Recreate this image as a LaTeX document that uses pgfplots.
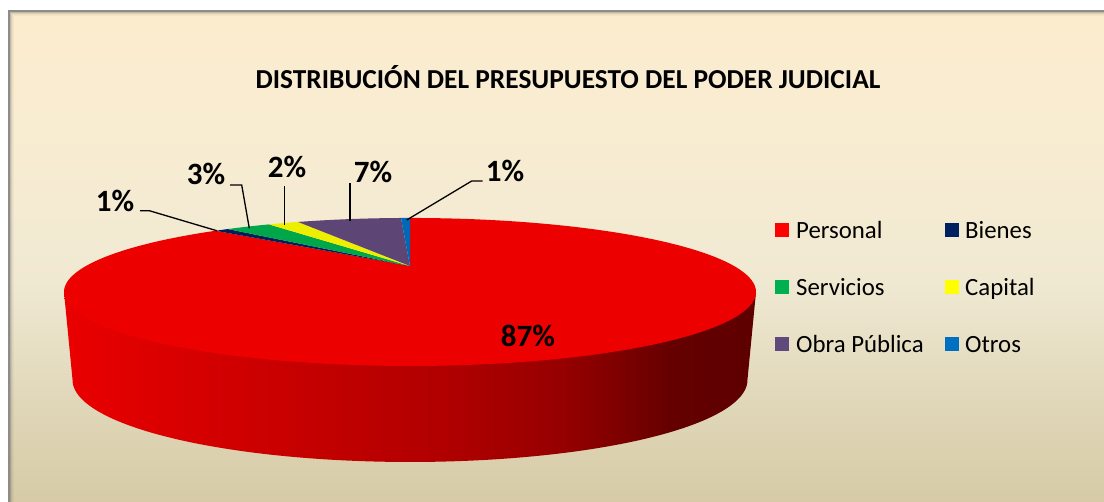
\documentclass[border=0pt]{standalone}
\usepackage{pgfplots}
\pgfplotsset{compat=1.18}
\usepackage{fontspec}
\setmainfont{Carlito}

% slice colours (top face) and legend colours
\definecolor{pPersonal}{RGB}{236,0,0}
\definecolor{pBienes}{RGB}{0,30,92}
\definecolor{pServicios}{RGB}{0,166,74}
\definecolor{pCapital}{RGB}{238,238,0}
\definecolor{pObra}{RGB}{93,70,118}
\definecolor{pOtros}{RGB}{0,104,184}
\definecolor{lPersonal}{RGB}{255,0,0}
\definecolor{lBienes}{RGB}{0,32,96}
\definecolor{lServicios}{RGB}{0,176,80}
\definecolor{lCapital}{RGB}{255,255,0}
\definecolor{lObra}{RGB}{96,74,123}
\definecolor{lOtros}{RGB}{0,112,192}

% wall shading (left -> right)
\definecolor{w0}{RGB}{234,0,0}
\definecolor{w1}{RGB}{205,0,0}
\definecolor{w2}{RGB}{175,0,0}
\definecolor{w3}{RGB}{150,0,0}
\definecolor{w4}{RGB}{120,0,0}
\definecolor{w5}{RGB}{100,0,0}
\definecolor{w6}{RGB}{94,0,0}
\pgfdeclarehorizontalshading{wallshade}{100bp}{color(0bp)=(w0); color(25bp)=(w0);
  color(38.5bp)=(w1); color(53bp)=(w2); color(61bp)=(w3); color(66bp)=(w4);
  color(69bp)=(w5); color(75bp)=(w6); color(100bp)=(w6)}

% background shading (bottom -> top)
\definecolor{g0}{RGB}{214,203,166}
\definecolor{g1}{RGB}{224,215,185}
\definecolor{g2}{RGB}{240,233,210}
\definecolor{g3}{RGB}{247,236,210}
\definecolor{g4}{RGB}{252,236,206}
\pgfdeclareverticalshading{bgshade}{100bp}{color(0bp)=(g0); color(25bp)=(g0);
  color(35bp)=(g1); color(47.5bp)=(g2); color(60bp)=(g3); color(75bp)=(g4); color(100bp)=(g4)}

% data (percent of budget)
\def\vPersonal{86.7}
\def\vBienes{0.9}
\def\vServicios{2.9}
\def\vCapital{2.0}
\def\vObra{6.9}
\def\vOtros{0.6}
% cumulative angles, clockwise from 12 o'clock
\pgfmathsetmacro\aA{90}
\pgfmathsetmacro\aB{\aA-3.6*\vPersonal}
\pgfmathsetmacro\aC{\aB-3.6*\vBienes}
\pgfmathsetmacro\aD{\aC-3.6*\vServicios}
\pgfmathsetmacro\aE{\aD-3.6*\vCapital}
\pgfmathsetmacro\aF{\aE-3.6*\vObra}
\pgfmathsetmacro\aG{\aF-3.6*\vOtros}

\newcommand\slice[4]{\addplot[draw=none, fill=#1, domain=#2:#3, samples=#4]
  ({tx(x)},{ty(x)}) -- (axis cs:410,266) -- cycle;}

\begin{document}
\begin{tikzpicture}[declare function={
  tw(\t)=1+0.351*sin(\t);
  tx(\t)=410+324*cos(\t)/tw(\t);
  ty(\t)=266-64.9*sin(\t)/tw(\t);
  bx(\t)=410+316*cos(\t)/tw(\t);
  by(\t)=351.2-71.9*sin(\t)/tw(\t);
}]
\begin{axis}[
  width=1104pt, height=502pt, scale only axis,
  xmin=0, xmax=1104, ymin=0, ymax=502, y dir=reverse,
  hide axis, clip=true,
]
% background and frame
\fill[white] (axis cs:0,0) rectangle (axis cs:1104,502);
\fill[shade, shading=bgshade] (axis cs:9,11) rectangle (axis cs:1104,502);
\draw[black!45, line width=1.6pt] (axis cs:8.8,520) -- (axis cs:8.8,10.8) -- (axis cs:1120,10.8);
\draw[black, opacity=0.22, line width=1pt] (axis cs:10.6,520) -- (axis cs:10.6,12.6) -- (axis cs:1120,12.6);
\draw[black, opacity=0.12, line width=1pt] (axis cs:11.6,520) -- (axis cs:11.6,13.6) -- (axis cs:1120,13.6);
\draw[black, opacity=0.06, line width=1pt] (axis cs:12.6,520) -- (axis cs:12.6,14.6) -- (axis cs:1120,14.6);
\draw[black, opacity=0.03, line width=1pt] (axis cs:13.6,520) -- (axis cs:13.6,15.6) -- (axis cs:1120,15.6);

% side wall (front, all Personal)
\addplot[draw=none, shade, shading=wallshade, domain=200.5:339.5, samples=120]
  ({bx(x)},{by(x)}) -- (axis cs:756,292) -- (axis cs:64,292) -- cycle;

% top face slices
\slice{pPersonal}{\aB}{\aA}{240}
\slice{pBienes}{\aC}{\aB}{6}
\slice{pServicios}{\aD}{\aC}{10}
\slice{pCapital}{\aE}{\aD}{8}
\slice{pObra}{\aF}{\aE}{20}
\slice{pOtros}{\aG}{\aF}{5}

% leader lines
\draw[black, line width=1.3pt] (axis cs:140,210.7) -- (axis cs:149.3,210.7) -- (axis cs:216.7,230.7);
\draw[black, line width=1.3pt] (axis cs:230,185) -- (axis cs:241.7,185) -- (axis cs:249.3,228.3);
\draw[black, line width=1.3pt] (axis cs:284.3,186) -- (axis cs:284.3,225);
\draw[black, line width=1.3pt] (axis cs:350,182.7) -- (axis cs:350,221);
\draw[black, line width=1.3pt] (axis cs:482.7,181) -- (axis cs:471.7,181) -- (axis cs:406.7,220);

% data labels
\begin{scope}[every node/.style={font=\bfseries\fontsize{31}{36}\selectfont, anchor=base, inner sep=0pt}]
\node at (axis cs:528,346.7) {87\%};
\node at (axis cs:115,212) {1\%};
\node at (axis cs:206,185) {3\%};
\node at (axis cs:287,177.3) {2\%};
\node at (axis cs:373,182.7) {7\%};
\node at (axis cs:505,181.7) {1\%};
\end{scope}

% title
\node[font=\bfseries\fontsize{27.4}{32}\selectfont, anchor=base, inner sep=0pt] at (axis cs:568,88.3)
  {DISTRIBUCIÓN DEL PRESUPUESTO DEL PODER JUDICIAL};

% legend
\begin{scope}[every node/.style={font=\fontsize{24.8}{29}\selectfont, anchor=base west, inner sep=0pt}]
\fill[lPersonal] (axis cs:775,223) rectangle (axis cs:789,237);
\node at (axis cs:796,238.3) {Personal};
\fill[lBienes] (axis cs:945,223) rectangle (axis cs:959,237);
\node at (axis cs:965,238.3) {Bienes};
\fill[lServicios] (axis cs:775,280) rectangle (axis cs:789,294);
\node at (axis cs:796,295.3) {Servicios};
\fill[lCapital] (axis cs:945,280) rectangle (axis cs:959,294);
\node at (axis cs:965,295.3) {Capital};
\fill[lObra] (axis cs:775,337) rectangle (axis cs:789,351);
\node at (axis cs:796,352.3) {Obra Pública};
\fill[lOtros] (axis cs:945,337) rectangle (axis cs:959,351);
\node at (axis cs:965,352.3) {Otros};
\end{scope}
\end{axis}
\end{tikzpicture}
\end{document}
